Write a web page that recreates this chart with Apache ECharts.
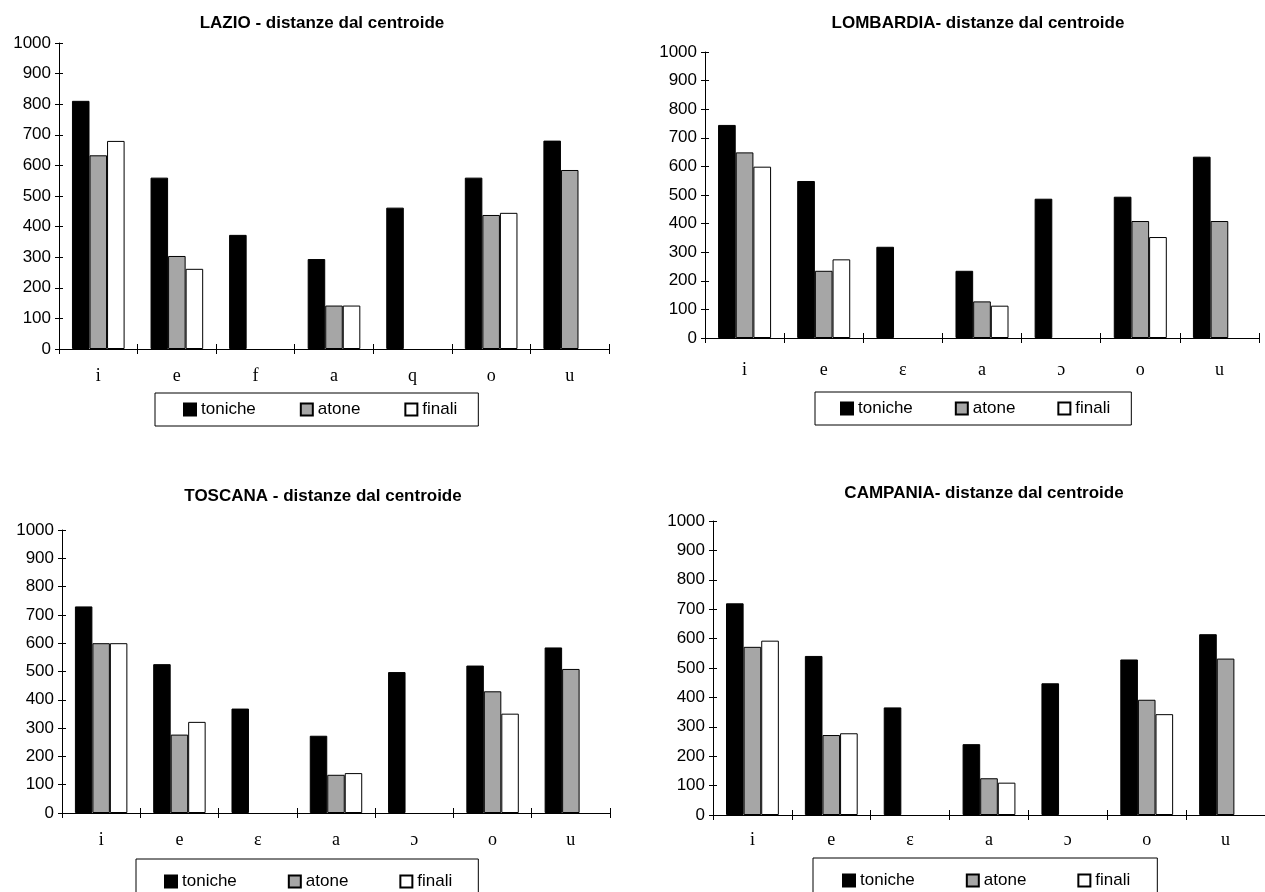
<!DOCTYPE html>
<html>
<head>
<meta charset="utf-8">
<script src="https://cdn.jsdelivr.net/npm/echarts@6/dist/echarts.min.js"></script>
<style>
html,body{margin:0;padding:0;background:#fff;}
#chart{width:1265px;height:892px;}
</style>
</head>
<body>
<div id="chart"></div>
<script>
// ---- data ----
const categoriesLazio = ['i', 'e', 'f', 'a', 'q', 'o', 'u'];
const categoriesIPA = ['i', 'e', 'ε', 'a', 'ɔ', 'o', 'u'];
const seriesNames = ['toniche', 'atone', 'finali'];
const yTickMin = 0, yTickMax = 1000, yTickStep = 100;

const lazioToniche = [811, 560, 373, 294, 462, 560, 681];
const lazioAtone   = [633, 304, null, 142, null, 438, 585];
const lazioFinali  = [680, 262, null, 142, null, 445, null];

const lombardiaToniche = [745, 549, 319, 235, 487, 494, 634];
const lombardiaAtone   = [649, 235, null, 128, null, 409, 409];
const lombardiaFinali  = [599, 275, null, 113, null, 353, null];

const toscanaToniche = [730, 526, 369, 273, 498, 521, 585];
const toscanaAtone   = [600, 277, null, 135, null, 430, 509];
const toscanaFinali  = [600, 322, null, 141, null, 351, null];

const campaniaToniche = [720, 541, 366, 241, 448, 529, 615];
const campaniaAtone   = [572, 272, null, 125, null, 392, 532];
const campaniaFinali  = [593, 278, null, 110, null, 343, null];

const titles = ['LAZIO - distanze dal centroide', 'LOMBARDIA- distanze dal centroide',
                'TOSCANA - distanze dal centroide', 'CAMPANIA- distanze dal centroide'];

// ---- layout / style ----
const panels = [
  { title: titles[0], cats: categoriesLazio, data: [lazioToniche, lazioAtone, lazioFinali],
    grid: { left: 59, top: 43, width: 550, height: 306 }, titleX: 322, titleY: 15, labelMargin: 18,
    legend: { left: 155, top: 393, itemGap: 44, padding: [8, 21, 8, 28] } },
  { title: titles[1], cats: categoriesIPA, data: [lombardiaToniche, lombardiaAtone, lombardiaFinali],
    grid: { left: 705, top: 52, width: 554, height: 286 }, titleX: 978, titleY: 15, labelMargin: 23,
    legend: { left: 815, top: 392, itemGap: 42, padding: [8, 21, 8, 25] } },
  { title: titles[2], cats: categoriesIPA, data: [toscanaToniche, toscanaAtone, toscanaFinali],
    grid: { left: 62, top: 530, width: 548, height: 283 }, titleX: 323, titleY: 488, labelMargin: 18,
    legend: { left: 136, top: 859, itemGap: 51, padding: [14, 26, 14, 28] } },
  { title: titles[3], cats: categoriesIPA, data: [campaniaToniche, campaniaAtone, campaniaFinali],
    grid: { left: 713, top: 521, width: 561, height: 294 }, titleX: 984, titleY: 485, labelMargin: 16,
    legend: { left: 813, top: 858, itemGap: 51, padding: [14, 27, 14, 29] } }
];
const fills = ['#000000', '#a6a6a6', '#ffffff'];
const sans = 'Liberation Sans, Arial, sans-serif';
const serif = 'Liberation Serif, Times New Roman, serif';

const option = { animation: false, backgroundColor: '#ffffff',
  title: [], grid: [], xAxis: [], yAxis: [], legend: [], series: [] };

panels.forEach((p, gi) => {
  option.title.push({ text: p.title, left: p.titleX, top: p.titleY, textAlign: 'center', padding: 0,
    textStyle: { fontFamily: sans, fontWeight: 'bold', fontSize: 17, color: '#000' } });
  option.grid.push(Object.assign({ containLabel: false }, p.grid));
  const xi = option.xAxis.length, yi = option.yAxis.length;
  option.xAxis.push({ type: 'category', gridIndex: gi, data: p.cats, position: 'bottom',
    axisLine: { lineStyle: { color: '#000', width: 1 } },
    axisTick: { show: true, length: 5, lineStyle: { color: '#000' } },
    axisLabel: { fontFamily: serif, fontSize: 18, color: '#000', margin: p.labelMargin } });
  option.xAxis.push({ type: 'category', gridIndex: gi, data: p.cats, position: 'bottom',
    axisLine: { show: false }, axisLabel: { show: false },
    axisTick: { show: true, inside: true, length: 5, lineStyle: { color: '#000' } } });
  option.yAxis.push({ type: 'value', gridIndex: gi, min: yTickMin, max: yTickMax, interval: yTickStep, position: 'left',
    splitLine: { show: false },
    axisLine: { show: true, lineStyle: { color: '#000', width: 1 } },
    axisTick: { show: true, length: 4, lineStyle: { color: '#000' } },
    axisLabel: { fontFamily: sans, fontSize: 17, color: '#000', margin: 8, formatter: v => String(v) } });
  option.yAxis.push({ type: 'value', gridIndex: gi, min: yTickMin, max: yTickMax, interval: yTickStep, position: 'left',
    splitLine: { show: false }, axisLine: { show: false }, axisLabel: { show: false },
    axisTick: { show: true, inside: true, length: 4, lineStyle: { color: '#000' } } });
  option.legend.push({ left: p.legend.left, top: p.legend.top, orient: 'horizontal',
    itemGap: p.legend.itemGap, padding: p.legend.padding, itemWidth: 12, itemHeight: 12,
    borderColor: '#000', borderWidth: 1, borderRadius: 0, icon: 'rect', selectedMode: false,
    data: seriesNames,
    textStyle: { fontFamily: sans, fontSize: 17, color: '#000' } });
  seriesNames.forEach((name, si) => {
    option.series.push({ type: 'bar', name: name, xAxisIndex: xi, yAxisIndex: yi,
      data: p.data[si], barGap: '0%', barCategoryGap: '33%',
      itemStyle: { color: fills[si], borderColor: '#000', borderWidth: 1 } });
  });
});

const chart = echarts.init(document.getElementById('chart'), null, { renderer: 'canvas' });
chart.setOption(option);
</script>
</body>
</html>
